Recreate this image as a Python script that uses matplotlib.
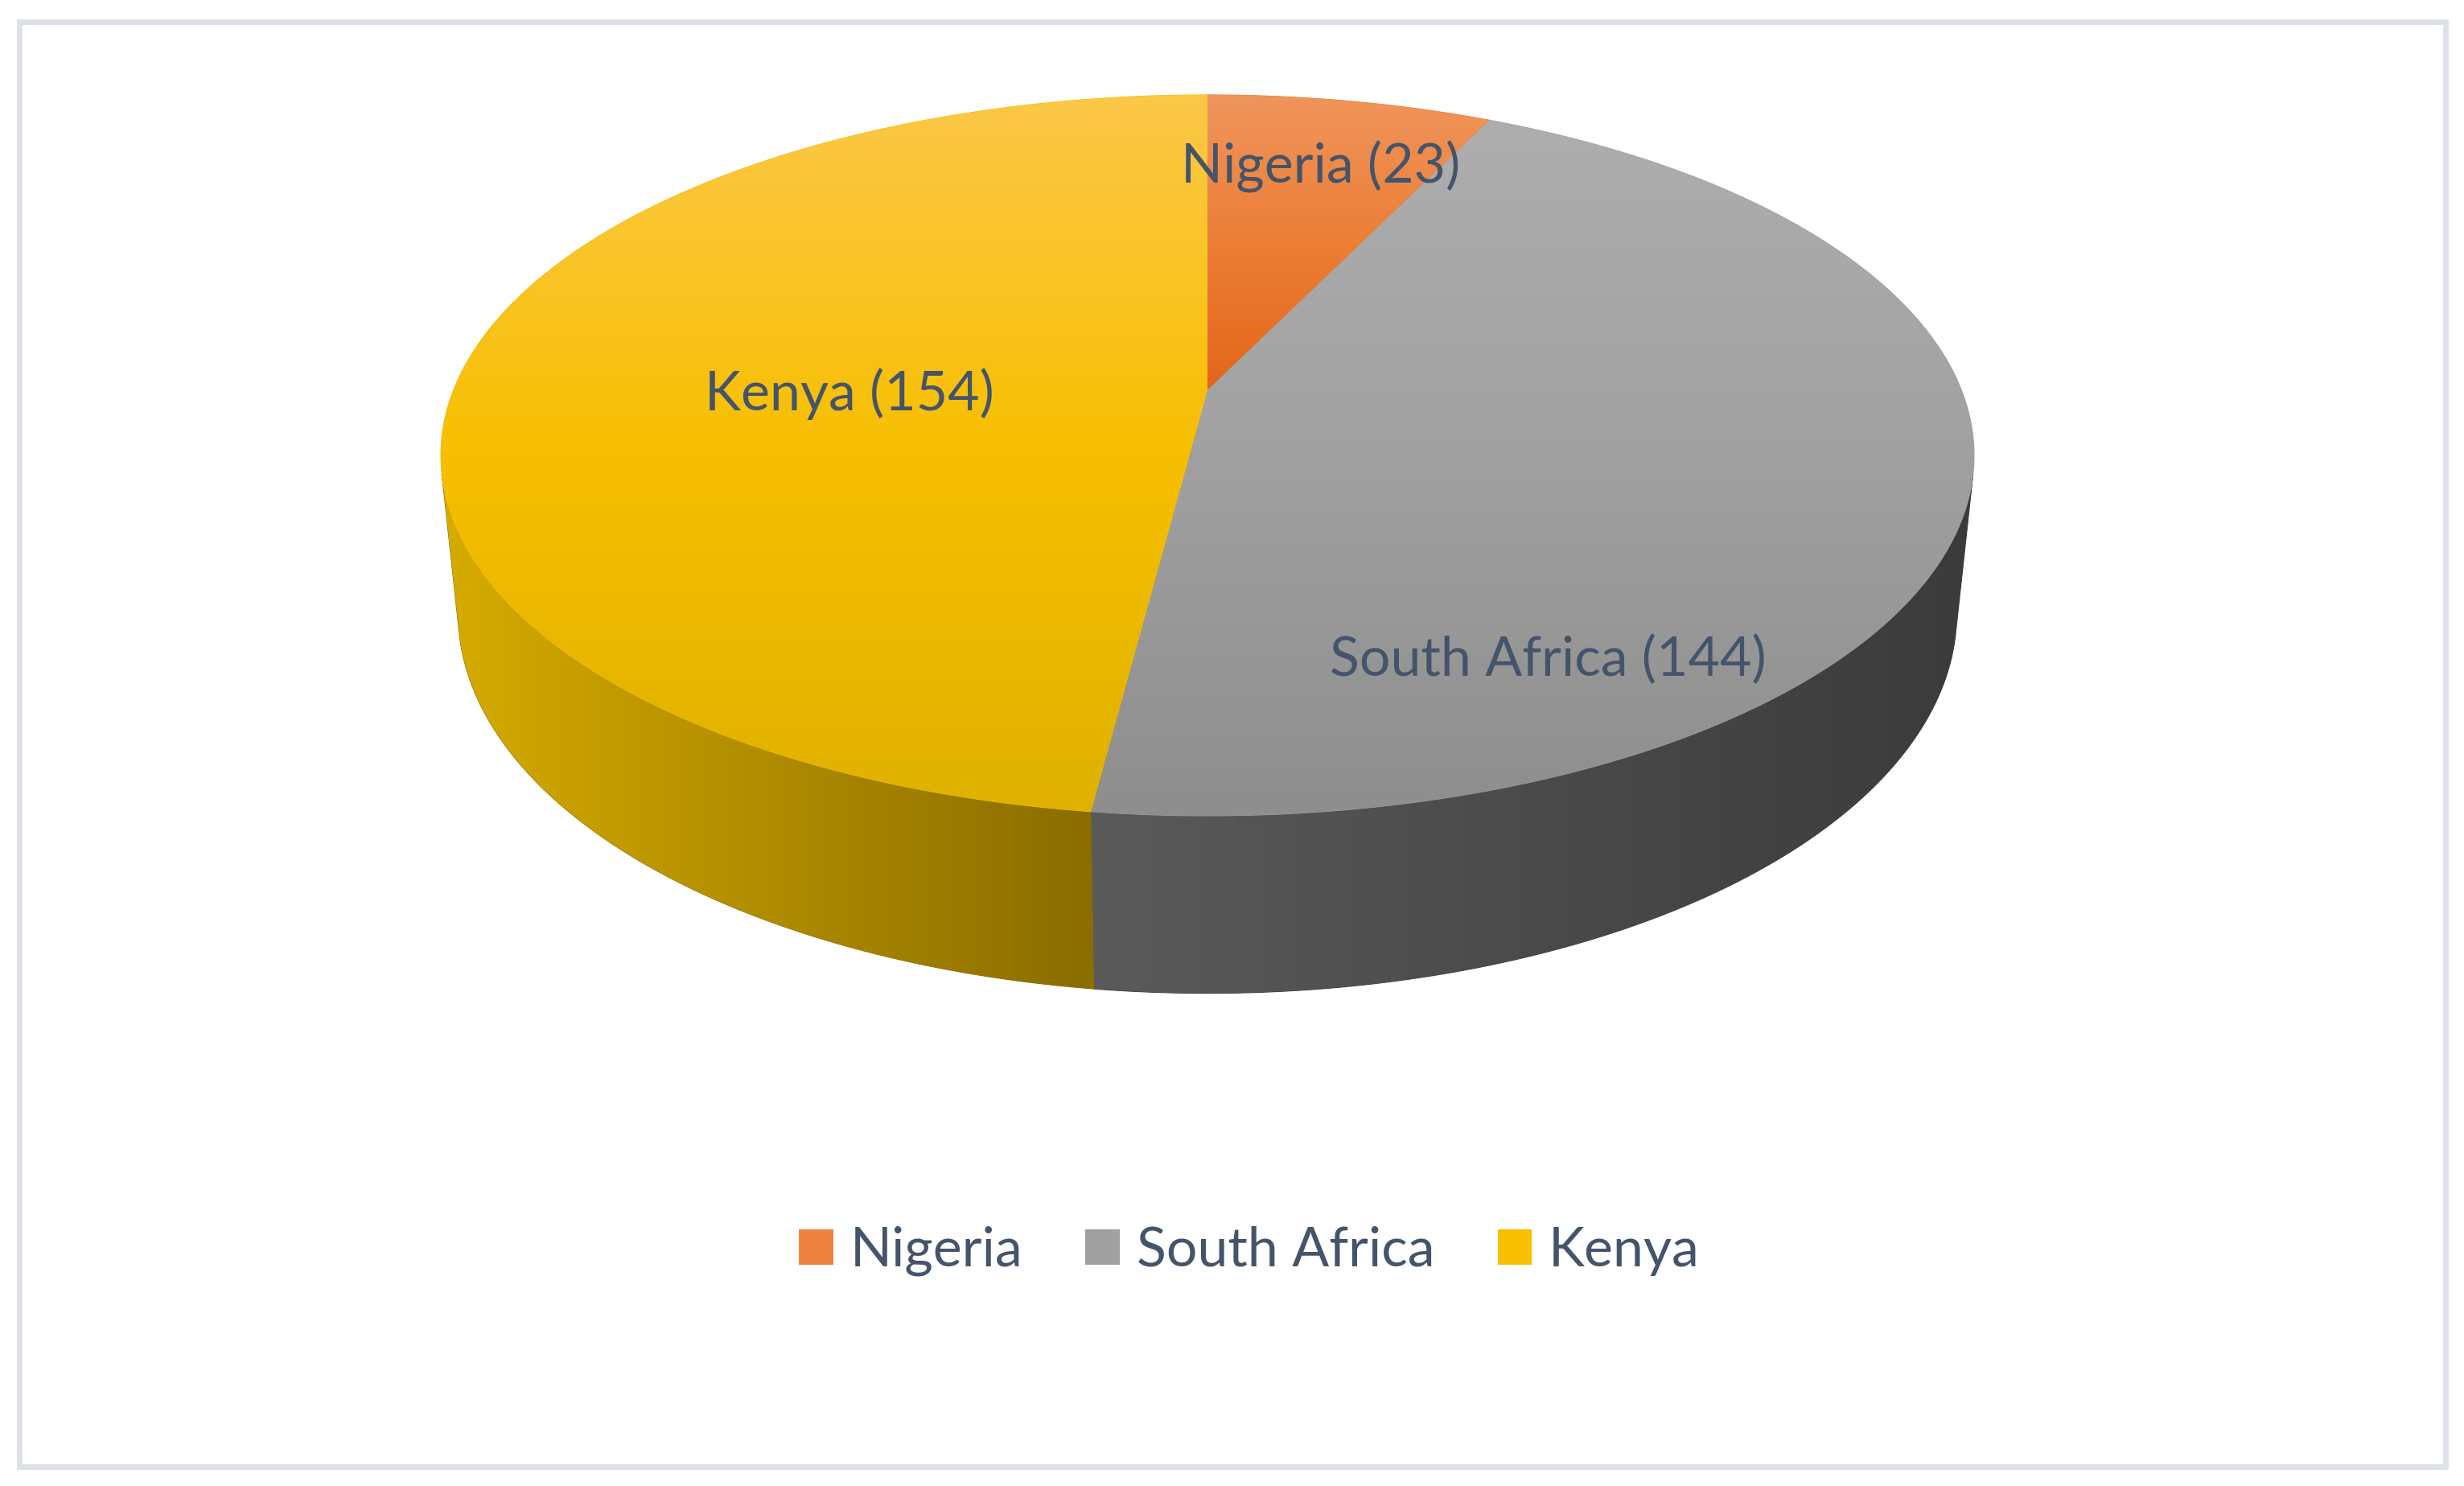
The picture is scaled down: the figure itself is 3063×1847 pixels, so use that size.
import numpy as np
import matplotlib
matplotlib.use('Agg')
import matplotlib.pyplot as plt
from matplotlib.patches import Polygon, Rectangle, Patch
from matplotlib.colors import LinearSegmentedColormap

# ---------------- data ----------------
countries = ['Nigeria', 'South Africa', 'Kenya']
counts = [23, 144, 154]

# ---------------- styles ----------------
top_grad = [['#F0955C', '#EC7E36', '#E2661A'],
            ['#AEAEAE', '#A0A0A0', '#8E8E8E'],
            ['#FCC848', '#F7BF00', '#E0B100']]
side_grad = [['#B85A18', '#7A3A0C'],
             ['#5A5A5A', '#3B3B3B'],
             ['#D6AB00', '#8A6D00']]
legend_colors = ['#EE8240', '#A0A0A0', '#F7C000']
label_xy = [(1642, 227), (1924, 840), (1056, 510)]
text_color = '#44546A'
font = 'Lato'
fsize = 49

W, H = 3063, 1847
fig = plt.figure(figsize=(W / 100, H / 100), dpi=100)
ax = fig.add_axes([0, 0, 1, 1])
ax.set_axis_off()

# ---------------- perspective camera ----------------
elev = np.radians(27.54)
s, c = np.sin(elev), np.cos(elev)
D = 5.535 * c
h = 0.2377
X0, Y0, K = 1501.0, 485.0, 4600.0


def proj(x, y, z):
    depth = D + c * y - s * z
    X = X0 + K * x / depth
    Y = Y0 - K * (s * y + c * z) / depth
    return X, Y


def arc(p0, p1, z, n=500):
    ph = np.radians(np.linspace(p0, p1, n))
    return proj(np.cos(ph), np.sin(ph), np.full_like(ph, z))


def grad_fill(xs, ys, colors, direction, z):
    verts = np.column_stack([xs, ys])
    mid = colors[len(colors) // 2]
    poly = Polygon(verts, closed=True, facecolor=mid, edgecolor=mid,
                   lw=0.8, zorder=z)
    ax.add_patch(poly)
    cmap = LinearSegmentedColormap.from_list('g', colors)
    x0, x1, y0, y1 = xs.min(), xs.max(), ys.min(), ys.max()
    g = np.linspace(0, 1, 256)
    img = g[:, None] if direction == 'v' else g[None, :]
    im = ax.imshow(img, cmap=cmap, extent=(x0, x1, y1, y0), origin='upper',
                   aspect='auto', interpolation='bilinear', zorder=z + 0.1)
    im.set_clip_path(poly)


total = sum(counts)
bounds = 90 - 360 * np.concatenate([[0], np.cumsum(counts)]) / total

# visible part of the cylinder wall
a_sil = np.degrees(np.arcsin(1 / (D * c)))
vis_lo, vis_hi = -180 + a_sil, -a_sil

# sides
for i in range(len(counts)):
    start, end = bounds[i], bounds[i + 1]
    lo, hi = max(end, vis_lo), min(start, vis_hi)
    if lo < hi:
        tx, ty = arc(lo, hi, 0.0)
        bx, by = arc(hi, lo, -h)
        xs = np.concatenate([tx, bx])
        ys = np.concatenate([ty, by])
        grad_fill(xs, ys, side_grad[i], 'h', 1)

# top faces
for i in range(len(counts)):
    start, end = bounds[i], bounds[i + 1]
    tx, ty = arc(start, end, 0.0)
    xs = np.concatenate([[X0], tx])
    ys = np.concatenate([[Y0], ty])
    grad_fill(xs, ys, top_grad[i], 'v', 2)

# data labels
for (x, y), name, v in zip(label_xy, countries, counts):
    ax.text(x, y, f'{name} ({v})', ha='center', va='baseline',
            fontsize=fsize, color=text_color, family=font, zorder=5)

# border
ax.add_patch(Rectangle((23.5, 26.5), 3016, 1796.5, fill=False,
                       edgecolor='#DEE2E8', lw=5.04, zorder=0))

# legend
handles = [Patch(facecolor=col, edgecolor='none', label=name)
           for name, col in zip(countries, legend_colors)]
fig.legend(handles=handles, loc='center', bbox_to_anchor=(0.507, 0.158),
           ncol=3, frameon=False, prop={'family': font, 'size': fsize},
           labelcolor=text_color, handlelength=0.63, handleheight=0.63,
           handletextpad=0.3, columnspacing=1.15)

ax.set_xlim(0, W)
ax.set_ylim(H, 0)
fig.savefig('out.png', dpi=100, facecolor='white')
